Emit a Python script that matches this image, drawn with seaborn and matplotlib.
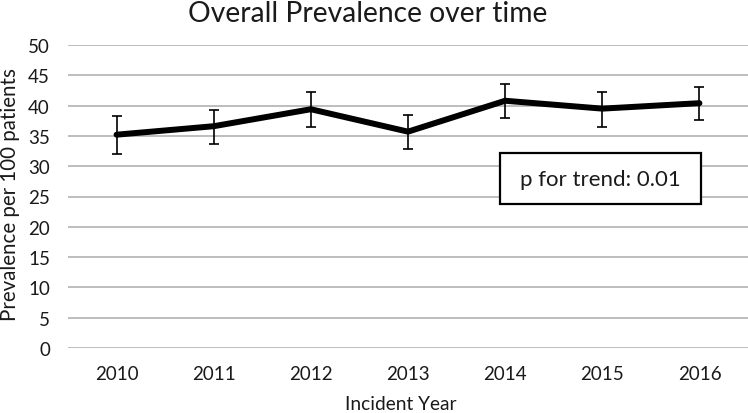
import matplotlib
matplotlib.use("Agg")
import matplotlib.pyplot as plt
from matplotlib.patches import Rectangle
import numpy as np
import pandas as pd
import seaborn as sns

years = ["2010", "2011", "2012", "2013", "2014", "2015", "2016"]
prevalence = [35.2, 36.6, 39.4, 35.7, 40.8, 39.5, 40.4]
ci_low = [32.0, 33.6, 36.5, 32.8, 37.9, 36.5, 37.6]
ci_high = [38.3, 39.3, 42.3, 38.4, 43.6, 42.3, 43.0]

sns.set_style("white")
plt.rcParams['font.family'] = ['Lato', 'DejaVu Sans']

df = pd.DataFrame({"pos": np.arange(len(years)), "year": years, "prev": prevalence})

W, H = 748, 414
fig = plt.figure(figsize=(7.48, 4.14), dpi=100)
ax = fig.add_axes([68 / W, 1 - 349 / H, 680 / W, 303 / H])

ax.grid(True, axis='y', color='#bdbdbd', linewidth=1.4, zorder=0)
ax.grid(False, axis='x')

yerr = [np.array(prevalence) - np.array(ci_low), np.array(ci_high) - np.array(prevalence)]
ax.errorbar(df["pos"], df["prev"], yerr=yerr, fmt='none', ecolor='black',
            elinewidth=1.2, capsize=3.6, capthick=1.2, zorder=3)
sns.lineplot(data=df, x="pos", y="prev", ax=ax, color='black', linewidth=4.3,
             zorder=4, solid_joinstyle='round')

ax.set_xlim(-0.5, 6.5)
ax.set_ylim(0, 50)
ax.set_yticks(np.arange(0, 51, 5))
ax.set_xticks(df["pos"])
ax.set_xticklabels(years)
ax.tick_params(axis='both', labelsize=13.5, length=0, colors='#1a1a1a')
ax.tick_params(axis='x', pad=12)
ax.tick_params(axis='y', pad=13)
for s in ax.spines.values():
    s.set_visible(False)

ax.set_xlabel("")
ax.set_ylabel("")
fig.text(401 / W, 1 - 405 / H, "Incident Year", ha='center', va='center',
         fontsize=13.8, color='#1a1a1a')
fig.text(10 / W, 1 - 195 / H, "Prevalence per 100 patients", ha='center', va='center',
         rotation=90, fontsize=14.8, color='#1a1a1a')
fig.text(368 / W, 1 - 22 / H, "Overall Prevalence over time", ha='center', va='baseline',
         fontsize=20.3, color='#1a1a1a')

# annotation box
fig.patches.append(Rectangle((500 / W, 1 - 205 / H), 201 / W, 51 / H, transform=fig.transFigure,
                             facecolor='white', edgecolor='black', linewidth=1.6, zorder=5))
fig.text(600 / W, 1 - 180 / H, "p for trend: 0.01", ha='center', va='center',
         fontsize=16, color='#1a1a1a', zorder=6)

fig.savefig("out.png", dpi=100)
